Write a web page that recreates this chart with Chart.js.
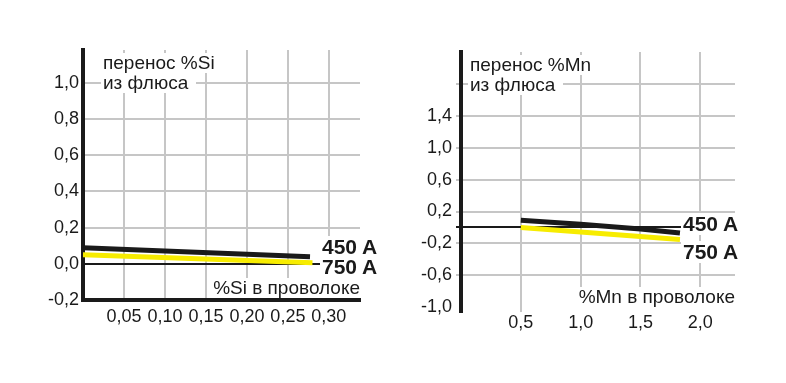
<!DOCTYPE html>
<html>
<head>
<meta charset="utf-8">
<script src="https://cdn.jsdelivr.net/npm/chart.js@4/dist/chart.umd.min.js"></script>
<style>
body { margin: 0; background: #fff; }
#wrap { position: relative; width: 786px; height: 383px; overflow: hidden;
        font-family: 'Liberation Sans Narrow', 'Arial Narrow', sans-serif; color: #1a1a1a; }
canvas { position: absolute; top: 0; }
.lbl { position: absolute; white-space: nowrap; }
.lbl span { background: #fff; display: inline-block; }
.title { font-size: 19px; line-height: 20px; }
.title span { padding: 0 8px 0 2px; }
.curr { font-size: 21px; font-weight: bold; line-height: 22px; }
.curr span { padding: 0 4px 0 2px; }
.xlab { font-size: 19px; line-height: 20px; }
.xlab span { padding: 0 0 0 3px; }
</style>
</head>
<body>
<div id="wrap">
  <canvas id="si" width="393" height="383" style="left:0"></canvas>
  <canvas id="mn" width="393" height="383" style="left:393px"></canvas>

  <div class="lbl title" style="left:101px; top:53px"><span>перенос %Si</span><br><span>из флюса</span></div>
  <div class="lbl curr" style="left:320px; top:236px"><span>450 A</span></div>
  <div class="lbl curr" style="left:320px; top:256px"><span>750 A</span></div>
  <div class="lbl xlab" style="right:426px; top:278px"><span>%Si в проволоке</span></div>

  <div class="lbl title" style="left:468px; top:55px"><span>перенос %Mn</span><br><span>из флюса</span></div>
  <div class="lbl curr" style="left:681px; top:213px"><span>450 A</span></div>
  <div class="lbl curr" style="left:681px; top:241px"><span>750 A</span></div>
  <div class="lbl xlab" style="right:51px; top:287px"><span style="padding-bottom:6px">%Mn в проволоке</span></div>
</div>
<script>
// перенос Si
const siX450 = [0, 0.277];
const siY450 = [0.088, 0.039];
const siX750 = [0, 0.28];
const siY750 = [0.05, 0.005];
const siXTicks = [0.05, 0.10, 0.15, 0.20, 0.25, 0.30];
const siXLabels = ['0,05', '0,10', '0,15', '0,20', '0,25', '0,30'];
const siYTicks = [-0.2, 0, 0.2, 0.4, 0.6, 0.8, 1.0];
const siYLabels = ['-0,2', '0,0', '0,2', '0,4', '0,6', '0,8', '1,0'];

// перенос Mn
const mnX450 = [0.5, 1.0, 1.5, 1.83];
const mnY450 = [0.09, 0.04, -0.02, -0.07];
const mnX750 = [0.5, 1.83];
const mnY750 = [0.0, -0.15];
const mnXTicks = [0.5, 1.0, 1.5, 2.0];
const mnXLabels = ['0,5', '1,0', '1,5', '2,0'];
const mnYTicks = [-1.0, -0.6, -0.2, 0, 0.2, 0.6, 1.0, 1.4, 1.8];
const mnYLabels = ['-1,0', '-0,6', '-0,2', '', '0,2', '0,6', '1,0', '1,4', ''];

const BLACK = '#1a1a1a';
const YELLOW = '#f7ec00';
const GRID = '#c6c6c6';

Chart.defaults.font.family = "'Liberation Sans Narrow', 'Arial Narrow', sans-serif";
Chart.defaults.color = BLACK;

function points(xs, ys) {
    return xs.map((x, i) => ({ x: x, y: ys[i] }));
}

function gridColor(hidden) {
    return ctx => {
        if (!ctx.tick) return GRID;
        if (ctx.tick.value === 0) return BLACK;
        if (ctx.tick.value === hidden) return 'rgba(0,0,0,0)';
        return GRID;
    };
}

function makeChart(id, s) {
    new Chart(document.getElementById(id), {
        type: 'line',
        data: {
            datasets: [
                { label: '450 A', data: points(s.x450, s.y450), borderColor: BLACK, borderWidth: 5, pointRadius: 0, tension: 0 },
                { label: '750 A', data: points(s.x750, s.y750), borderColor: YELLOW, borderWidth: 5, pointRadius: 0, tension: 0 },
            ],
        },
        options: {
            responsive: false,
            animation: false,
            events: [],
            layout: { padding: s.padding },
            plugins: { legend: { display: false }, tooltip: { enabled: false } },
            scales: {
                x: {
                    type: 'linear',
                    min: s.xMin,
                    max: s.xMax,
                    afterBuildTicks: sc => { sc.ticks = s.xTicks.map(v => ({ value: v })); },
                    afterFit: sc => { sc.height = s.xHeight; },
                    ticks: {
                        autoSkip: false,
                        maxRotation: 0,
                        padding: s.xPad,
                        font: { size: 18 },
                        callback: (v, i) => s.xLabels[i],
                    },
                    grid: { color: GRID, lineWidth: 2, drawTicks: false },
                    border: { display: s.xBorder, color: BLACK, width: 4 },
                },
                y: {
                    type: 'linear',
                    min: s.yMin,
                    max: s.yMax,
                    afterBuildTicks: sc => { sc.ticks = s.yTicks.map(v => ({ value: v })); },
                    afterFit: sc => { sc.width = s.yWidth; },
                    ticks: {
                        autoSkip: false,
                        padding: s.yPad,
                        font: { size: 18 },
                        callback: (v, i) => s.yLabels[i],
                    },
                    grid: {
                        color: gridColor(s.yMin < -0.5 ? -1.0 : -0.2),
                        lineWidth: 2,
                        drawTicks: s.yTickLen > 0,
                        tickLength: s.yTickLen,
                    },
                    border: { display: true, color: BLACK, width: 4 },
                },
            },
        },
    });
}

makeChart('si', {
    x450: siX450, y450: siY450, x750: siX750, y750: siY750,
    xTicks: siXTicks, xLabels: siXLabels, yTicks: siYTicks, yLabels: siYLabels,
    xMin: 0, xMax: 0.338, yMin: -0.2, yMax: 1.18,
    padding: { left: 0, top: 50, right: 33, bottom: 43 },
    xHeight: 40, yWidth: 83, xPad: 6, yPad: 4, yTickLen: 0, xBorder: true,
});

makeChart('mn', {
    x450: mnX450, y450: mnY450, x750: mnX750, y750: mnY750,
    xTicks: mnXTicks, xLabels: mnXLabels, yTicks: mnYTicks, yLabels: mnYLabels,
    xMin: 0, xMax: 2.29, yMin: -1.06, yMax: 2.2,
    padding: { left: 0, top: 52, right: 51, bottom: 41 },
    xHeight: 30, yWidth: 68, xPad: 0, yPad: 4, yTickLen: 5, xBorder: false,
});
</script>
</body>
</html>
